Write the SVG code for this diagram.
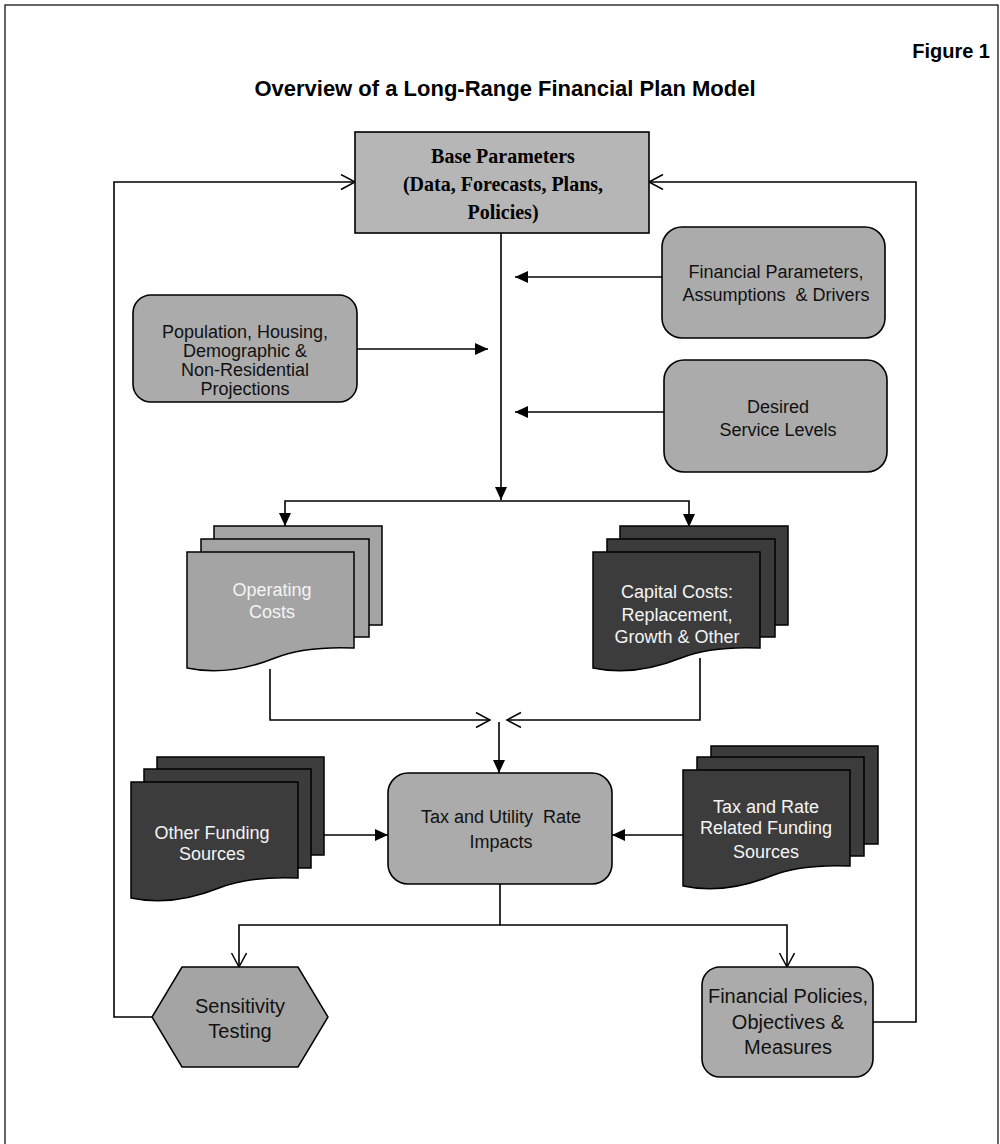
<svg xmlns="http://www.w3.org/2000/svg" width="1000" height="1144" viewBox="0 0 1000 1144">
<style>
.ln{stroke:#000;stroke-width:1.6;fill:none}
.box{fill:#ababab;stroke:#000;stroke-width:1.6}
.base{fill:#b6b6b6;stroke:#000;stroke-width:1.6}
.sl{fill:#a4a4a4;stroke:#000;stroke-width:1.5}
.sd{fill:#3c3c3c;stroke:#000;stroke-width:1.5}
.t{font-family:"Liberation Sans",Arial,sans-serif;font-size:18px;text-anchor:middle;fill:#111}
.tw{font-family:"Liberation Sans",Arial,sans-serif;font-size:18px;text-anchor:middle;fill:#f4f4f4}
.tb{font-family:"Liberation Serif","Times New Roman",serif;font-size:20px;font-weight:bold;text-anchor:middle;fill:#000}
.big{font-size:20px}
</style>
<defs>
<marker id="af" markerUnits="userSpaceOnUse" markerWidth="14" markerHeight="12" refX="13" refY="6" orient="auto">
<path d="M0,0 L13,6 L0,12 Z" fill="#000"/>
</marker>
<marker id="ao" markerUnits="userSpaceOnUse" markerWidth="18" markerHeight="18" refX="15" refY="8" orient="auto">
<path d="M1,0.5 L15,8 L1,15.5" fill="none" stroke="#000" stroke-width="1.5"/>
</marker>
</defs>
<rect x="5" y="5" width="993" height="1150" fill="none" stroke="#000" stroke-width="1.2"/>
<text x="990" y="58" font-family="Liberation Sans,Arial,sans-serif" font-size="20" font-weight="bold" text-anchor="end">Figure 1</text>
<text x="505" y="96" font-family="Liberation Sans,Arial,sans-serif" font-size="22" font-weight="bold" text-anchor="middle">Overview of a Long-Range Financial Plan Model</text>

<g id="connectors">
<path class="ln" d="M501,233 V500" marker-end="url(#af)"/>
<path class="ln" d="M501,501 H285 V526" marker-end="url(#af)"/>
<path class="ln" d="M501,501 H689 V527" marker-end="url(#af)"/>
<path class="ln" d="M357,349 H488" marker-end="url(#af)"/>
<path class="ln" d="M662,277 H515" marker-end="url(#af)"/>
<path class="ln" d="M664,412 H515" marker-end="url(#af)"/>
<path class="ln" d="M270,669 V720 H490" marker-end="url(#ao)"/>
<path class="ln" d="M700,658 V720 H507" marker-end="url(#ao)"/>
<path class="ln" d="M499,722 V773" marker-end="url(#af)"/>
<path class="ln" d="M324,835 H388" marker-end="url(#af)"/>
<path class="ln" d="M683,835 H612" marker-end="url(#af)"/>
<path class="ln" d="M500,884 V925 H239 V967" marker-end="url(#ao)"/>
<path class="ln" d="M500,925 H787 V967" marker-end="url(#ao)"/>
<path class="ln" d="M152,1017 H114 V182 H355" marker-end="url(#ao)"/>
<path class="ln" d="M873,1022 H916 V182 H649" marker-end="url(#ao)"/>
</g>

<g id="base-parameters">
<rect class="base" x="355" y="132" width="294" height="101"/>
<text class="tb" x="503" y="163">Base Parameters</text>
<text class="tb" x="503" y="191">(Data, Forecasts, Plans,</text>
<text class="tb" x="503" y="219">Policies)</text>
</g>

<g id="population">
<rect class="box" x="133" y="295" width="224" height="107" rx="18"/>
<text class="t" x="245" y="338">Population, Housing,</text>
<text class="t" x="245" y="357">Demographic &amp;</text>
<text class="t" x="245" y="376">Non-Residential</text>
<text class="t" x="245" y="395">Projections</text>
</g>

<g id="financial-parameters">
<rect class="box" x="662" y="227" width="223" height="111" rx="20"/>
<text class="t" x="776" y="278">Financial Parameters,</text>
<text class="t" x="776" y="301" xml:space="preserve">Assumptions  &amp; Drivers</text>
</g>

<g id="desired-service">
<rect class="box" x="664" y="360" width="223" height="112" rx="20"/>
<text class="t" x="778" y="413">Desired</text>
<text class="t" x="778" y="436">Service Levels</text>
</g>

<g id="operating-costs">
<rect class="sl" x="214" y="526" width="168" height="99"/>
<rect class="sl" x="201" y="539" width="168" height="98"/>
<path class="sl" d="M187,552 H354 V648 C330,647 300,648 275,658 C245,670 215,674 187,668 Z"/>
<text class="tw" x="272" y="596">Operating</text>
<text class="tw" x="272" y="618">Costs</text>
</g>

<g id="capital-costs">
<rect class="sd" x="620" y="526" width="168" height="99"/>
<rect class="sd" x="607" y="539" width="168" height="98"/>
<path class="sd" d="M593,552 H760 V648 C736,647 706,648 681,658 C651,670 621,674 593,668 Z"/>
<text class="tw" x="677" y="598">Capital Costs:</text>
<text class="tw" x="677" y="621">Replacement,</text>
<text class="tw" x="677" y="643">Growth &amp; Other</text>
</g>

<g id="tax-utility">
<rect class="box" x="388" y="773" width="224" height="111" rx="20"/>
<text class="t" x="501" y="823" xml:space="preserve">Tax and Utility  Rate</text>
<text class="t" x="501" y="848">Impacts</text>
</g>

<g id="other-funding">
<rect class="sd" x="157" y="757" width="167" height="98"/>
<rect class="sd" x="144" y="769" width="167" height="99"/>
<path class="sd" d="M131,782 H298 V878 C274,877 244,878 219,888 C189,900 159,904 131,898 Z"/>
<text class="tw" x="212" y="839">Other Funding</text>
<text class="tw" x="212" y="860">Sources</text>
</g>

<g id="tax-rate-funding">
<rect class="sd" x="711" y="746" width="167" height="98"/>
<rect class="sd" x="697" y="757" width="167" height="99"/>
<path class="sd" d="M683,770 H850 V866 C826,865 796,866 771,876 C741,888 711,892 683,886 Z"/>
<text class="tw" x="766" y="813">Tax and Rate</text>
<text class="tw" x="766" y="834">Related Funding</text>
<text class="tw" x="766" y="858">Sources</text>
</g>

<g id="sensitivity-testing">
<polygon class="sl" points="182,967 298,967 328,1017 298,1067 182,1067 152,1017"/>
<text class="t big" x="240" y="1013">Sensitivity</text>
<text class="t big" x="240" y="1038">Testing</text>
</g>

<g id="financial-policies">
<rect class="box" x="702" y="967" width="171" height="110" rx="18"/>
<text class="t big" x="788" y="1003">Financial Policies,</text>
<text class="t big" x="788" y="1029">Objectives &amp;</text>
<text class="t big" x="788" y="1054">Measures</text>
</g>
</svg>
